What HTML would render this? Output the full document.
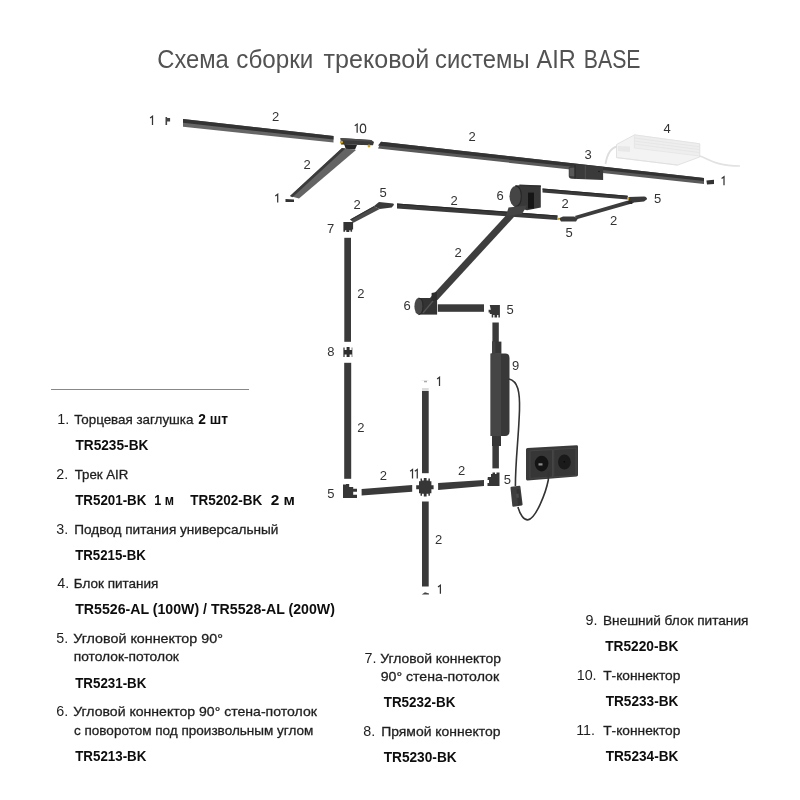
<!DOCTYPE html>
<html><head><meta charset="utf-8">
<style>
html,body{margin:0;padding:0;background:#fff;width:800px;height:800px;overflow:hidden}
svg{display:block;will-change:transform}
text{font-family:"Liberation Sans",sans-serif}
.t{fill:#1e1e1e;stroke:#1e1e1e;stroke-width:0.3px;font-size:13.6px}
.b{fill:#0d0d0d;font-size:15.2px;font-weight:bold}
.n{fill:#333;font-size:13px}
.nm{font-size:14.3px;stroke-width:0}
</style></head><body>
<svg width="800" height="800" viewBox="0 0 800 800" xmlns="http://www.w3.org/2000/svg">
<!-- title -->
<g style="font-size:24.5px;fill:#525252" transform="translate(0,68) scale(1,1.06) translate(0,-68)">
<text class="tw" x="157.3" y="68" textLength="71.5" lengthAdjust="spacingAndGlyphs">Схема</text>
<text class="tw" x="236.3" y="68" textLength="77.0" lengthAdjust="spacingAndGlyphs">сборки</text>
<text class="tw" x="323.6" y="68" textLength="105.6" lengthAdjust="spacingAndGlyphs">трековой</text>
<text class="tw" x="435.1" y="68" textLength="94.4" lengthAdjust="spacingAndGlyphs">системы</text>
<text class="tw" x="536.5" y="68" textLength="39.2" lengthAdjust="spacingAndGlyphs">AIR</text>
<text class="tw" x="583.8" y="68" textLength="56.7" lengthAdjust="spacingAndGlyphs">BASE</text>
</g>
<line x1="51" y1="389.5" x2="249" y2="389.5" stroke="#888" stroke-width="1"/>

<!-- TEXT -->
<text class="t nm" x="57.20" y="423.60">1.</text>
<text class="t" x="74.20" y="423.60" textLength="119.20" lengthAdjust="spacingAndGlyphs">Торцевая заглушка</text>
<text class="b" x="198.20" y="423.60" textLength="29.70" lengthAdjust="spacingAndGlyphs">2 шт</text>
<text class="b" x="75.45" y="449.60" textLength="72.95" lengthAdjust="spacingAndGlyphs">TR5235-BK</text>
<text class="t nm" x="56.20" y="478.60">2.</text>
<text class="t" x="74.70" y="478.60" textLength="53.70" lengthAdjust="spacingAndGlyphs">Трек AIR</text>
<text class="b" x="75.20" y="504.60" textLength="71.20" lengthAdjust="spacingAndGlyphs">TR5201-BK</text>
<text class="b" x="154.20" y="504.60" textLength="19.70" lengthAdjust="spacingAndGlyphs">1 м</text>
<text class="b" x="190.20" y="504.60" textLength="72.20" lengthAdjust="spacingAndGlyphs">TR5202-BK</text>
<text class="b" x="270.70" y="504.60" textLength="24.20" lengthAdjust="spacingAndGlyphs">2 м</text>
<text class="t nm" x="56.20" y="533.60">3.</text>
<text class="t" x="74.20" y="533.60" textLength="204.20" lengthAdjust="spacingAndGlyphs">Подвод питания универсальный</text>
<text class="b" x="75.20" y="559.60" textLength="70.70" lengthAdjust="spacingAndGlyphs">TR5215-BK</text>
<text class="t nm" x="57.20" y="588.20">4.</text>
<text class="t" x="73.70" y="588.20" textLength="84.70" lengthAdjust="spacingAndGlyphs">Блок питания</text>
<text class="b" x="75.20" y="614.20" textLength="259.70" lengthAdjust="spacingAndGlyphs">TR5526-AL (100W) / TR5528-AL (200W)</text>
<text class="t nm" x="56.20" y="643.20">5.</text>
<text class="t" x="73.20" y="643.20" textLength="149.70" lengthAdjust="spacingAndGlyphs">Угловой коннектор 90°</text>
<text class="t" x="73.70" y="661.20" textLength="105.20" lengthAdjust="spacingAndGlyphs">потолок-потолок</text>
<text class="b" x="75.20" y="687.60" textLength="71.20" lengthAdjust="spacingAndGlyphs">TR5231-BK</text>
<text class="t nm" x="56.20" y="716.20">6.</text>
<text class="t" x="73.20" y="716.20" textLength="243.70" lengthAdjust="spacingAndGlyphs">Угловой коннектор 90° стена-потолок</text>
<text class="t" x="73.95" y="734.60" textLength="239.45" lengthAdjust="spacingAndGlyphs">с поворотом под произвольным углом</text>
<text class="b" x="75.20" y="760.50" textLength="71.20" lengthAdjust="spacingAndGlyphs">TR5213-BK</text>
<text class="t nm" x="364.45" y="662.70">7.</text>
<text class="t" x="380.20" y="662.70" textLength="120.70" lengthAdjust="spacingAndGlyphs">Угловой коннектор</text>
<text class="t" x="380.70" y="680.60" textLength="118.45" lengthAdjust="spacingAndGlyphs">90° стена-потолок</text>
<text class="b" x="383.70" y="706.60" textLength="71.70" lengthAdjust="spacingAndGlyphs">TR5232-BK</text>
<text class="t nm" x="363.20" y="735.70">8.</text>
<text class="t" x="381.20" y="735.70" textLength="119.20" lengthAdjust="spacingAndGlyphs">Прямой коннектор</text>
<text class="b" x="383.70" y="761.60" textLength="72.95" lengthAdjust="spacingAndGlyphs">TR5230-BK</text>
<text class="t nm" x="585.45" y="625.20">9.</text>
<text class="t" x="602.95" y="625.20" textLength="145.45" lengthAdjust="spacingAndGlyphs">Внешний блок питания</text>
<text class="b" x="605.20" y="651.20" textLength="73.20" lengthAdjust="spacingAndGlyphs">TR5220-BK</text>
<text class="t nm" x="576.70" y="680.20">10.</text>
<text class="t" x="603.20" y="680.20" textLength="77.20" lengthAdjust="spacingAndGlyphs">Т-коннектор</text>
<text class="b" x="605.70" y="706.20" textLength="72.70" lengthAdjust="spacingAndGlyphs">TR5233-BK</text>
<text class="t nm" x="576.20" y="735.20">11.</text>
<text class="t" x="603.20" y="735.20" textLength="77.20" lengthAdjust="spacingAndGlyphs">Т-коннектор</text>
<text class="b" x="605.70" y="761.20" textLength="72.70" lengthAdjust="spacingAndGlyphs">TR5234-BK</text>
<!-- /TEXT -->
<!-- ===== DIAGRAM ===== -->
<g id="diag">
<!-- PSU 4 (very light) -->
<g>
<path d="M605.5,164 C607,155 610,148 617,146.5" fill="none" stroke="#dedede" stroke-width="1.8"/>
<path d="M699.5,156 C708,158 714,166 740,166" fill="none" stroke="#e2e2e2" stroke-width="1.6"/>
<polygon points="616.5,144.5 634.4,134.9 699.7,143.8 699.7,157 677.7,165.1 616.5,157.6" fill="#f3f3f3" stroke="#dcdcdc" stroke-width="0.8"/>
<polygon points="634.4,134.9 699.7,143.8 699.7,156 634.4,148" fill="#eeeeee" stroke="#e0e0e0" stroke-width="0.6"/>
<line x1="634.4" y1="138" x2="699.7" y2="146.8" stroke="#e2e2e2" stroke-width="0.7"/>
<line x1="634.4" y1="141" x2="699.7" y2="149.6" stroke="#e2e2e2" stroke-width="0.7"/>
<line x1="634.4" y1="144" x2="699.7" y2="152.6" stroke="#e2e2e2" stroke-width="0.7"/>
<line x1="616.5" y1="157.6" x2="677.7" y2="165.1" stroke="#e0e0e0" stroke-width="0.7"/>
<polygon points="618,146 630,146.5 630,152 618,151" fill="#e8e8e8"/>
</g>

<!-- end cap 1 top-left -->
<path d="M165.5,117 h1.6 v1 h3 v3.5 h-3 v3.5 h-1.6 z" fill="#444"/>
<!-- T1 -->
<polygon points="183,118.9 333.5,136 333.5,142.5 183,126.8" fill="#666"/>
<polygon points="183,118.9 333.5,136 333.5,139.5 183,122.8" fill="#333"/>

<!-- T-connector 10 -->
<polygon points="344,144 357,145 355,149.5 346,149.5" fill="#262626"/>
<polygon points="340.5,138 371,140 374,142 373,145.2 341,144.6" fill="#3a3a3a"/>
<polygon points="340.5,138 371,140 373.5,141.8 341,140.2" fill="#4c4c4c"/>
<circle cx="341.5" cy="142" r="1.6" fill="#c9a227"/>
<circle cx="369" cy="146" r="1.4" fill="#c9a227"/>

<!-- T2 diagonal -->
<polygon points="290,196 342,148 356,150 299,198.5" fill="#646464"/>
<polygon points="290,196 342,148 345.5,148.4 292.5,197.2" fill="#3c3c3c"/>
<!-- end cap 1 -->
<polygon points="285.5,199 294,199.5 294,202 285.5,202" fill="#333"/>

<!-- T3 long -->
<polygon points="381,141.8 704,178 704,184 378,148.5" fill="#5a5a5a"/>
<polygon points="381,141.8 704,178 704,181 378,145.5" fill="#333"/>
<!-- power feed 3 -->
<path d="M568.75,167.2 L575,164.4 L603.1,166.9 L603.1,180 L572,178.8 Q568.75,178.5 568.75,176 Z" fill="#3a3a3a"/>
<polygon points="569.5,168 574.5,167.5 574.5,176.5 569.5,176" fill="#585858"/>
<line x1="575" y1="165" x2="575" y2="178.5" stroke="#222" stroke-width="0.8"/>
<line x1="585.3" y1="165.5" x2="585.3" y2="179" stroke="#555" stroke-width="0.8"/>
<circle cx="599" cy="171.5" r="0.7" fill="#111"/>
<!-- end cap right -->
<polygon points="706.4,180.5 714,179.8 714,184 707,184.5" fill="#333"/>

<!-- connector 5 top-left + short diag -->
<polygon points="350.1,219.4 373.75,206.25 379.75,208.9 353.5,222.75" fill="#4a4a4a"/>
<polygon points="350.1,219.4 373.75,206.25 374.8,206.8 351,220.3" fill="#333"/>
<polygon points="373.75,206.25 379,202.1 393.25,203.6 394,204.75 391.75,207.4 379.75,208.9" fill="#3a3a3a"/>
<!-- connector 7 -->
<path d="M343.4,222 h9.7 v7.5 h-1 v2.2 h-1.6 v-1.5 h-1.2 v1.8 h-3 v-1.8 h-1.2 v1.5 h-1.7 z" fill="#333"/>
<!-- T7 horizontal (behind big diag) -->
<polygon points="397,203.4 557.5,215.6 557.5,220 397,208.4" fill="#3a3a3a"/>
<polygon points="397,203.4 557.5,215.4 557.5,216.6 397,204.6" fill="#2a2a2a"/>
<!-- vertical left tracks -->
<rect x="344.3" y="237.8" width="6.7" height="104" fill="#3a3a3a"/>
<path d="M343.4,347.5 h1.2 v2.6 h2 v-3 h3 v3 h2.1 v-2.6 h0.6 v9.5 h-0.6 v-2.5 h-2.1 v2.4 h-3 v-2.4 h-2 v2.5 h-1.2 z" fill="#2e2e2e"/>
<rect x="344.2" y="362.8" width="7" height="116" fill="#3a3a3a"/>
<!-- connector 5 bottom-left -->
<path d="M343,484.5 h3 v-0.6 h3.2 v3 h4 v1.8 h3.8 v3 h-3.8 v3 h3.8 v3.2 h-14 z" fill="#363636"/>
<!-- horizontal bottom-left track -->
<polygon points="361.6,489 412.2,485 412.2,491.8 361.6,495.4" fill="#3a3a3a"/>
<!-- cross 11 -->
<path d="M419,481.2 h1.5 v-2.7 h1.5 v2 h1.8 v-2.5 h2.8 v2.5 h1.8 v-2 h1.5 v2.7 h1.5 v4 h2.2 v4 h-2.2 v4 h-1.5 v2.5 h-1.5 v-2 h-1.8 v2.8 h-2.8 v-2.8 h-1.8 v2 h-1.5 v-2.5 h-1.5 v-4 h-2.8 v-4 h2.8 z" fill="#363636"/>
<!-- center vertical tracks -->
<rect x="422" y="391" width="6.7" height="82.2" fill="#3a3a3a"/>
<rect x="422" y="388" width="6.7" height="3" fill="#ddd"/>
<rect x="424" y="380.7" width="3" height="1.6" fill="#aaa"/>
<line x1="421.5" y1="380.5" x2="428.5" y2="380.5" stroke="#e4e4e4" stroke-width="0.6"/>
<rect x="422" y="501.5" width="6.7" height="85" fill="#3a3a3a"/>
<polygon points="421.7,594.6 425,592.2 429,593.5 429,594.6" fill="#444"/>
<!-- right horizontal track -->
<polygon points="438.1,483.1 484,480 484,486 438.1,489.9" fill="#3a3a3a"/>
<!-- connector 5 (right-bottom) -->
<path d="M487.8,477 h3.2 v-3 h1.5 v-1.5 h2.5 v1.5 h1.5 v-1.5 h3 v13.5 h-12 v-3 h1.5 v-3 h-1.5 z" fill="#363636"/>

<!-- big diag beam -->
<polygon points="514.6,206 524,206 437.5,300 428.1,300" fill="#3e3e3e"/>
<!-- box 6 upper -->
<polygon points="515.5,185.2 540.8,185.5 540.8,207.6 527,210.2 515.5,207" fill="#383838"/>
<polygon points="519.4,184.4 540.8,185.5 540.8,187 519.4,186" fill="#303030"/>
<ellipse cx="515.4" cy="196.2" rx="5.9" ry="10.3" fill="#454545"/>
<path d="M515.4,185.9 Q521.3,186.5 521.3,196.2 Q521.3,206 515.4,206.5" fill="none" stroke="#262626" stroke-width="1.1"/>
<rect x="528" y="192.6" width="6" height="16" fill="#151515"/>
<polygon points="508.5,207.5 527,205.5 522,214 506,216" fill="#444"/>
<!-- connector 6 lower -->
<rect x="418.5" y="298" width="18.6" height="16.6" fill="#333"/>
<ellipse cx="418.6" cy="306.3" rx="4.2" ry="8.3" fill="#484848"/>
<path d="M418.6,298 Q423,298.5 423,306.3 Q423,314 418.6,314.6" fill="none" stroke="#262626" stroke-width="1"/>
<polygon points="431.6,293 437,292 437,300 431.6,301" fill="#2c2c2c"/>
<line x1="423" y1="313" x2="433" y2="301" stroke="#555" stroke-width="1.2"/>
<!-- horizontal track from 6 lower -->
<rect x="437.8" y="304.3" width="46.2" height="7.5" fill="#3a3a3a"/>
<!-- connector 5 upper-right -->
<path d="M489.75,304.9 h10.15 v12.7 h-1.5 v-2.5 h-1.3 v2.3 h-2.6 v-2.3 h-1.3 v2.5 h-1.5 v-3.6 h-1.9 v-1.6 h-1.2 v-2.6 h2.2 z" fill="#363636"/>

<!-- T5 top short -->
<polygon points="542.5,188.5 627.7,195.8 627.7,199.6 542.5,192.5" fill="#3a3a3a"/>
<polygon points="542.5,188.5 627.7,195.8 627.7,196.8 542.5,189.6" fill="#2a2a2a"/>
<path d="M628.4,197 L644,196.6 Q647.2,197 647,199.3 L644,201.6 L634,202.4 L632,203.8 L628.4,203.2 Z" fill="#3a3a3a"/>
<circle cx="628.3" cy="198.3" r="1.1" fill="#c9a227"/>
<!-- T6 short diag -->
<polygon points="574.75,216 627,200.8 631.8,203.6 577.5,218.9" fill="#3c3c3c"/>
<polygon points="627,200.8 632,201 632,204 628,204" fill="#2a2a2a"/>
<!-- connector 5 bottom middle -->
<polygon points="559,218.3 563,216.6 574,216.4 578.2,218.3 576,221.4 561,221.6" fill="#3a3a3a"/>
<circle cx="558.6" cy="218.8" r="1.1" fill="#c9a227"/>

<!-- vertical track to 9 -->
<rect x="492.4" y="322.5" width="6.4" height="19.5" fill="#3a3a3a"/>
<rect x="492" y="341.6" width="9.4" height="12.2" fill="#363636"/>
<rect x="492" y="341.6" width="3.4" height="12.2" fill="#424242"/>
<path d="M490.6,353.6 h14.5 q4.4,0 4.4,4.4 v73.6 q0,4.4 -4.4,4.4 h-14.5 z" fill="#383838"/>
<path d="M490.6,353.6 h10.4 v82.4 h-10.4 z" fill="#454545"/>
<rect x="492" y="436" width="9" height="10" fill="#363636"/>
<rect x="492.4" y="446" width="6.5" height="22.4" fill="#3a3a3a"/>
<!-- socket -->
<path d="M527.5,448 L576.5,445.2 Q578,445.1 578,446.6 L578,475 Q578,476.3 576.5,476.4 L527.5,480.4 Q526,480.5 526,479 L526,449.5 Q526,448.1 527.5,448 Z" fill="#3a3a3a"/>
<polygon points="530,450.8 552.5,449.6 552.5,477 530,478.4" fill="#363636" stroke="#4a4a4a" stroke-width="0.7"/>
<polygon points="553.8,449.5 576,448.2 576,475.6 553.8,476.9" fill="#363636" stroke="#4a4a4a" stroke-width="0.7"/>
<ellipse cx="541.6" cy="463.6" rx="6.8" ry="7.8" fill="#141414"/>
<ellipse cx="564.4" cy="462" rx="6.4" ry="7.6" fill="#1a1a1a"/>
<rect x="538.5" y="463.3" width="4" height="2.2" fill="#8a8a8a"/>
<circle cx="564.3" cy="461.8" r="0.8" fill="#050505"/>
<!-- cable -->
<path d="M509,379 C518,381 520,392 519.5,410 C518.5,440 515.4,460 515.4,486" fill="none" stroke="#333" stroke-width="1.6"/>
<polygon points="511.5,487.8 519.4,486.8 521.6,504.4 513.3,505.7" fill="#3e3e3e" stroke="#3e3e3e" stroke-width="2" stroke-linejoin="round"/>
<polygon points="516.5,489.5 519.4,489 521.6,504.4 518,505" fill="#333"/>
<polygon points="516,494 518.5,493.6 519,497.5 516.5,497.9" fill="#4a4a4a"/>
<path d="M518,507 C520,515 524,520 527.75,519.9 C536,519 546,492 548.3,480 L548.6,471.5" fill="none" stroke="#333" stroke-width="1.6"/>
</g>

<!-- diagram labels -->
<path d="M150.10,118.00 L152.50,116.30 L152.50,124.90 M275.30,196.00 L277.70,194.30 L277.70,202.60 M721.60,178.50 L724.00,176.80 L724.00,185.30 M437.10,378.90 L439.50,377.20 L439.50,386.00 M438.00,586.95 L440.40,585.25 L440.40,593.80 M354.75,125.80 L357.15,124.10 L357.15,132.65 M410.10,471.20 L412.50,469.50 L412.50,478.50 M414.85,471.20 L417.25,469.50 L417.25,478.50 " fill="none" stroke="#333" stroke-width="1.25" stroke-linejoin="miter"/>
<ellipse cx="363" cy="128.4" rx="2.7" ry="4.25" fill="none" stroke="#333" stroke-width="1.2"/>

<g class="n">
<text x="271.9" y="120.8">2</text>
<text x="468.4" y="140.8">2</text>
<text x="303.4" y="169.3">2</text>
<text x="584.4" y="158.8">3</text>
<text x="663.4" y="132.8">4</text>
<text x="379.4" y="196.8">5</text>
<text x="353.4" y="209.3">2</text>
<text x="326.9" y="232.8">7</text>
<text x="450.4" y="204.8">2</text>
<text x="496.4" y="199.8">6</text>
<text x="561.4" y="207.8">2</text>
<text x="653.9" y="202.8">5</text>
<text x="609.9" y="225.3">2</text>
<text x="565.4" y="237.3">5</text>
<text x="454.4" y="257.3">2</text>
<text x="357.2" y="298.4">2</text>
<text x="403.4" y="309.8">6</text>
<text x="506.4" y="313.8">5</text>
<text x="327.3" y="355.7">8</text>
<text x="511.9" y="370.4">9</text>
<text x="357.2" y="432.0">2</text>
<text x="379.7" y="479.8">2</text>
<text x="457.9" y="475.0">2</text>
<text x="503.7" y="484.3">5</text>
<text x="327.2" y="497.6">5</text>
<text x="434.9" y="544.0">2</text>
</g>
<!-- /DIAGRAM -->
</svg>
</body></html>
